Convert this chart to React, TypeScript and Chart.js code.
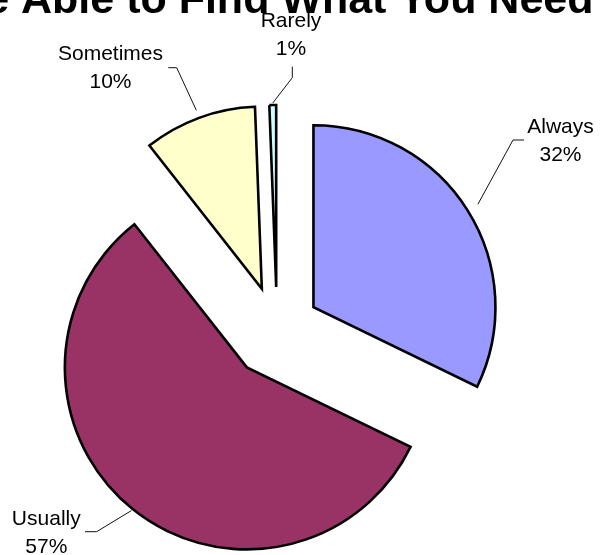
import React, { useEffect, useRef } from "react";
import { Chart, registerables } from "chart.js";

Chart.register(...registerables);

// ---- data ----
const categories = ["Always", "Usually", "Sometimes", "Rarely"];
const values = [32.2, 57.2, 10.0, 0.6];
const titleText = "Would You Be Able to Find What You Need?";

// ---- styles / layout ----
const colors = ["#9999FF", "#993366", "#FFFFCC", "#CCFFFF"];
const explode = [43, 48, 44, 43]; // explosion distance of each slice (px)
const leaderGap = [12, 2, 8, 2]; // gap between arc and leader-line start (px)
const labelPos = [
  [560.5, 133],
  [46.3, 525],
  [110.5, 60],
  [291, 27],
]; // label centre x, first baseline y
const leaderElbow = [
  [513, 140],
  [96.7, 531.7],
  [176.7, 67.7],
  [292.3, 77.7],
];
const leaderEnd = [
  [524, 140],
  [85, 531.7],
  [168.3, 67.7],
  [292.3, 66.7],
];
const FONT = "'Liberation Sans', Arial, sans-serif";

const explodePlugin = {
  id: "explodeSlices",
  beforeDatasetsDraw(chart: any) {
    const meta = chart.getDatasetMeta(0);
    const ca = chart.chartArea;
    const cx = (ca.left + ca.right) / 2;
    const cy = (ca.top + ca.bottom) / 2;
    meta.data.forEach((arc: any, i: number) => {
      const mid = (arc.startAngle + arc.endAngle) / 2;
      arc.x = cx + Math.cos(mid) * explode[i];
      arc.y = cy + Math.sin(mid) * explode[i];
    });
  },
};

const labelPlugin = {
  id: "pieLabels",
  afterDatasetsDraw(chart: any) {
    const ctx = chart.ctx;
    const meta = chart.getDatasetMeta(0);
    const total = values.reduce((a, b) => a + b, 0);
    ctx.save();
    ctx.strokeStyle = "#111";
    ctx.lineWidth = 1;
    meta.data.forEach((arc: any, i: number) => {
      const mid = (arc.startAngle + arc.endAngle) / 2;
      const r = arc.outerRadius + leaderGap[i];
      const sx = arc.x + Math.cos(mid) * r;
      const sy = arc.y + Math.sin(mid) * r;
      ctx.beginPath();
      ctx.moveTo(sx, sy);
      ctx.lineTo(leaderElbow[i][0], leaderElbow[i][1]);
      ctx.lineTo(leaderEnd[i][0], leaderEnd[i][1]);
      ctx.stroke();
    });
    ctx.fillStyle = "#000";
    ctx.font = `21px ${FONT}`;
    ctx.textAlign = "center";
    ctx.textBaseline = "alphabetic";
    categories.forEach((c, i) => {
      const pct = Math.round((values[i] / total) * 100) + "%";
      ctx.fillText(c, labelPos[i][0], labelPos[i][1]);
      ctx.fillText(pct, labelPos[i][0], labelPos[i][1] + 28);
    });
    ctx.restore();
  },
};

const titlePlugin = {
  id: "clippedTitle",
  afterDraw(chart: any) {
    const ctx = chart.ctx;
    ctx.save();
    ctx.font = `bold 43px ${FONT}`;
    ctx.fillStyle = "#000";
    ctx.textAlign = "left";
    ctx.textBaseline = "alphabetic";
    const prefix = "Would You Be ";
    const x = 21 - ctx.measureText(prefix).width;
    ctx.fillText(titleText, x, 13);
    ctx.restore();
  },
};

export default function App() {
  const ref = useRef<HTMLCanvasElement | null>(null);
  useEffect(() => {
    document.body.style.margin = "0";
    const canvas = ref.current;
    if (!canvas) return;
    const chart = new Chart(canvas, {
      type: "pie",
      data: {
        labels: categories,
        datasets: [
          {
            data: values,
            backgroundColor: colors,
            borderColor: "#000",
            borderWidth: 2.6,
            borderJoinStyle: "miter",
          } as any,
        ],
      },
      options: {
        responsive: false,
        animation: false,
        radius: 182,
        layout: { padding: { left: 0, right: 46, top: 105, bottom: 0 } },
        plugins: {
          legend: { display: false },
          title: { display: false },
          tooltip: { enabled: false },
        },
        events: [],
      } as any,
      plugins: [explodePlugin, labelPlugin, titlePlugin],
    });
    return () => chart.destroy();
  }, []);
  return (
    <div style={{ width: 600, height: 555, background: "#fff" }}>
      <canvas ref={ref} width={600} height={555} style={{ display: "block" }} />
    </div>
  );
}
